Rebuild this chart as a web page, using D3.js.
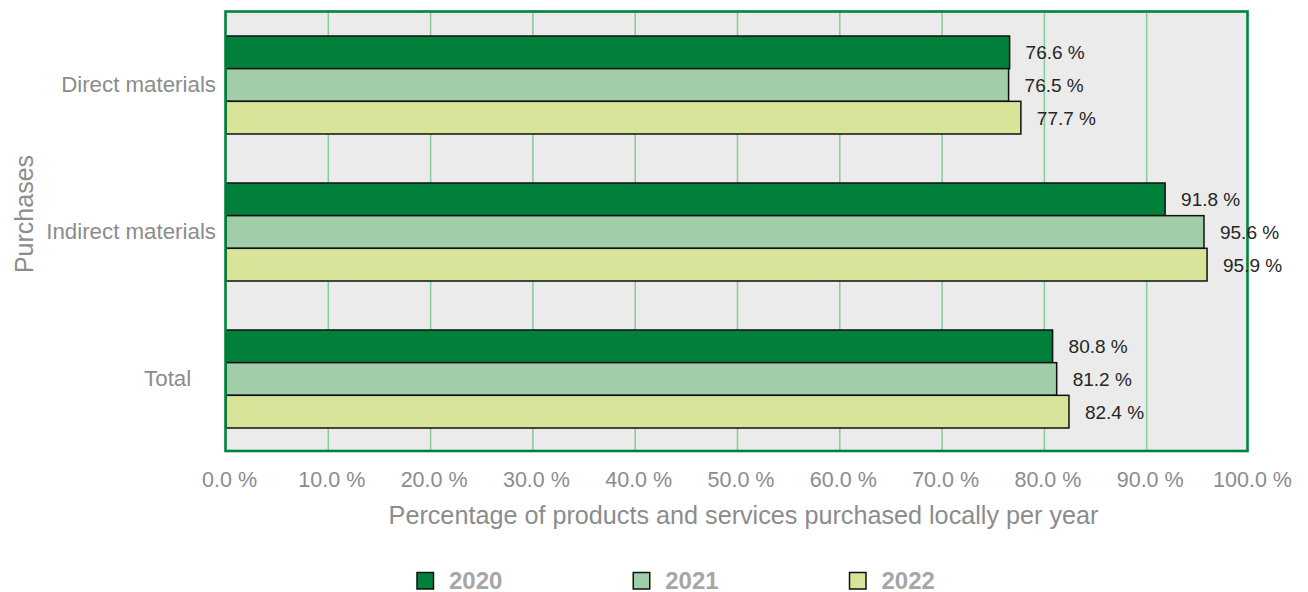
<!DOCTYPE html>
<html>
<head>
<meta charset="utf-8">
<script src="https://cdn.jsdelivr.net/npm/d3@7"></script>
<style>
  html, body { margin: 0; padding: 0; background: #ffffff; }
  svg { display: block; font-family: "Liberation Sans", Arial, sans-serif; }
</style>
</head>
<body>
<svg id="chart" width="1308" height="592"></svg>
<script>
// Share of purchases sourced locally, by purchase type and year
const categories = ["Direct materials", "Indirect materials", "Total    "];
const years = ["2020", "2021", "2022"];
const values2020 = [76.6, 91.8, 80.8];
const values2021 = [76.5, 95.6, 81.2];
const values2022 = [77.7, 95.9, 82.4];
const xTicks = [0, 10, 20, 30, 40, 50, 60, 70, 80, 90, 100];
const xTitle = "Percentage of products and services purchased locally per year";
const yTitle = "Purchases";

const seriesValues = [values2020, values2021, values2022];
const colors = ["#00803b", "#a2cda9", "#d9e49b"];

const svg = d3.select("#chart");

const plot = { left: 226, right: 1249, top: 11.5, bottom: 452.5 };

const x = d3.scaleLinear().domain([0, 100]).range([plot.left, plot.right]);
const y = d3.scaleBand().domain(categories).range([plot.top, plot.bottom])
  .paddingInner(1 / 3).paddingOuter(1 / 6);
const ySub = d3.scaleBand().domain(years).range([0, y.bandwidth()]);

// plot background
svg.append("rect")
  .attr("x", 225.5).attr("y", 11.5)
  .attr("width", 1022).attr("height", 439.5)
  .attr("fill", "#ebebeb");

// vertical gridlines
svg.append("g").selectAll("line")
  .data(xTicks.slice(1, -1))
  .join("line")
  .attr("x1", d => x(d)).attr("x2", d => x(d))
  .attr("y1", 11.5).attr("y2", 451)
  .attr("stroke", "#86cc98")
  .attr("stroke-width", 1.5);

// bars
const rows = [];
categories.forEach((c, i) => {
  years.forEach((yr, j) => rows.push({ cat: c, year: yr, value: seriesValues[j][i], color: colors[j] }));
});

svg.append("g").selectAll("rect")
  .data(rows)
  .join("rect")
  .attr("x", x(0))
  .attr("y", d => y(d.cat) + ySub(d.year))
  .attr("width", d => x(d.value) - x(0))
  .attr("height", ySub.bandwidth())
  .attr("fill", d => d.color)
  .attr("stroke", "#111111")
  .attr("stroke-width", 1.5);

// frame
svg.append("rect")
  .attr("x", 225.5).attr("y", 11.5)
  .attr("width", 1022).attr("height", 439.5)
  .attr("fill", "none")
  .attr("stroke", "#00843d")
  .attr("stroke-width", 2.6);

// value labels
svg.append("g").selectAll("text")
  .data(rows)
  .join("text")
  .attr("x", d => x(d.value) + 16)
  .attr("y", d => y(d.cat) + ySub(d.year) + ySub.bandwidth() / 2)
  .attr("dy", "0.36em")
  .attr("font-size", 19)
  .attr("fill", "#262626")
  .text(d => d.value.toFixed(1) + " %");

// x axis
const xAxis = d3.axisBottom(x)
  .tickValues(xTicks)
  .tickSize(0)
  .tickPadding(0)
  .tickFormat(d => d.toFixed(1) + " %");

const gx = svg.append("g")
  .attr("transform", `translate(3,${471})`)
  .call(xAxis);
gx.select(".domain").remove();
gx.selectAll("text")
  .attr("font-family", "Liberation Sans, Arial, sans-serif")
  .attr("font-size", 21.5)
  .attr("fill", "#8c8c8c")
  .attr("dy", "0.73em");

// y axis (category labels)
const yAxis = d3.axisLeft(y).tickSize(0).tickPadding(10);
const gy = svg.append("g")
  .attr("transform", `translate(${plot.left},0)`)
  .call(yAxis);
gy.select(".domain").remove();
gy.selectAll("text")
  .attr("font-family", "Liberation Sans, Arial, sans-serif")
  .attr("font-size", 22.3)
  .attr("fill", "#8c8c8c")
  .style("white-space", "pre");

// axis titles
svg.append("text")
  .attr("x", 743.5).attr("y", 524)
  .attr("text-anchor", "middle")
  .attr("font-size", 25.2)
  .attr("fill", "#8c8c8c")
  .text(xTitle);

svg.append("text")
  .attr("transform", "translate(33,214) rotate(-90)")
  .attr("text-anchor", "middle")
  .attr("font-size", 25)
  .attr("fill", "#8c8c8c")
  .text(yTitle);

// legend
const legendX = d3.scalePoint().domain(years).range([417, 849.5]);
const lg = svg.append("g").selectAll("g")
  .data(years)
  .join("g")
  .attr("transform", d => `translate(${legendX(d)},572.5)`);
lg.append("rect")
  .attr("width", 16.5).attr("height", 16.5)
  .attr("fill", (d, i) => colors[i])
  .attr("stroke", "#111111")
  .attr("stroke-width", 1.5);
lg.append("text")
  .attr("x", 32).attr("y", 16)
  .attr("font-size", 24)
  .attr("font-weight", "bold")
  .attr("fill", "#a6a6a6")
  .text(d => d);
</script>
</body>
</html>
